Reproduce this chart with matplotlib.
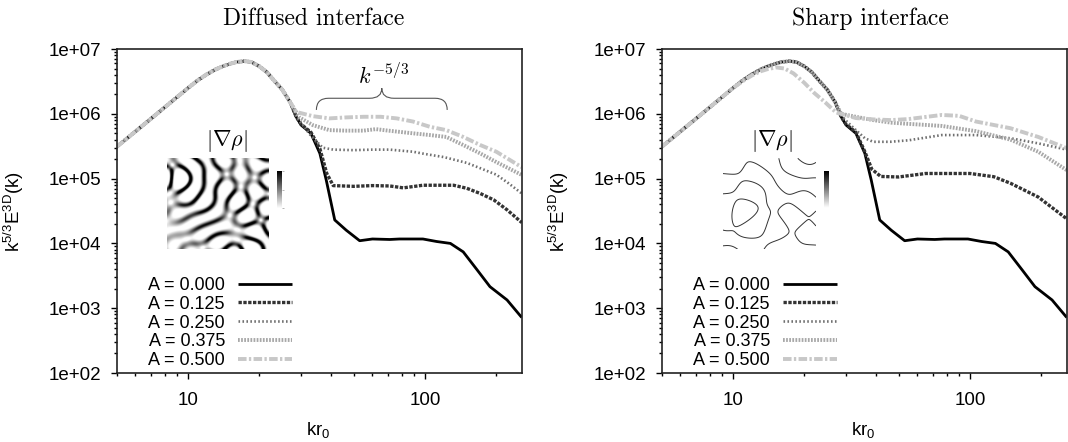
import numpy as np
import matplotlib
matplotlib.use('Agg')
import matplotlib.pyplot as plt
from matplotlib.path import Path
from matplotlib.patches import PathPatch
from matplotlib.ticker import FuncFormatter, NullFormatter, LogLocator, FixedLocator

plt.rcParams['font.family'] = 'Liberation Sans'
plt.rcParams['mathtext.fontset'] = 'custom'
plt.rcParams['mathtext.rm'] = 'Liberation Sans'
plt.rcParams['mathtext.it'] = 'Liberation Sans:italic'

# ---- spectra: k r0 vs k^{5/3} E^{3D}(k) ----
# rising branch shared by every run
k_low = [5, 7, 10, 11, 12, 13, 14, 15, 16, 17.3, 18.5, 20, 21.5, 23, 25, 27]
e_low = [3.1e5, 8.5e5, 2.5e6, 3.3e6, 4.07e6, 4.8e6, 5.4e6, 5.9e6, 6.3e6, 6.5e6, 6.3e6, 5.4e6,
         4.4e6, 3.3e6, 2.35e6, 1.5e6]

# A = 0 (same in both panels)
k_a000 = [28.6, 30, 33, 36, 38.3, 41.6, 46.5, 53, 60, 71, 78, 98, 112, 128, 145, 166, 188, 222, 256]
e_a000 = [9.0e5, 6.7e5, 5.0e5, 2.45e5, 9.5e4, 2.3e4, 1.6e4, 1.1e4, 1.17e4, 1.15e4, 1.17e4, 1.17e4,
          1.07e4, 1.0e4, 7.4e3, 3.9e3, 2.15e3, 1.34e3, 7.2e2]

# diffused interface
dif_k125 = [28.6, 30, 33, 36, 38.5, 41, 50, 60, 71, 81, 98, 132, 150, 171, 195, 222, 256]
dif_e125 = [9.0e5, 6.9e5, 5.2e5, 2.9e5, 1.2e5, 7.8e4, 7.6e4, 7.8e4, 7.7e4, 7.2e4, 7.9e4, 7.9e4,
            7.1e4, 5.9e4, 4.7e4, 3.3e4, 2.1e4]
dif_k250 = [28.6, 30, 33, 37, 41, 50, 60, 71, 89, 100, 120, 150, 175, 200, 225, 256]
dif_e250 = [9.2e5, 7.2e5, 4.6e5, 3.0e5, 2.8e5, 2.75e5, 2.8e5, 2.8e5, 2.6e5, 2.4e5, 2.15e5, 1.75e5,
            1.4e5, 1.15e5, 8.5e4, 5.9e4]
dif_k375 = [28.6, 29.5, 33.6, 39.5, 46.5, 55, 62, 70, 89, 105, 123, 145, 171, 200, 256]
dif_e375 = [1.05e6, 8.8e5, 6.7e5, 5.6e5, 5.5e5, 5.5e5, 5.8e5, 5.5e5, 5.0e5, 4.7e5, 4.4e5, 3.3e5,
            2.45e5, 1.8e5, 1.14e5]
dif_k500 = [28.6, 33.6, 39.5, 46.5, 55, 65, 76, 89, 105, 123, 145, 171, 200, 256]
dif_e500 = [1.07e6, 9.2e5, 8.5e5, 8.8e5, 9.0e5, 9.0e5, 8.5e5, 7.6e5, 6.3e5, 5.6e5, 4.4e5, 3.3e5,
            2.6e5, 1.5e5]

# sharp interface
shp_k125 = [28.6, 30, 33, 36, 38.5, 42, 50, 65, 80, 100, 126, 148, 194, 256]
shp_e125 = [9.0e5, 6.9e5, 5.2e5, 2.6e5, 1.4e5, 1.08e5, 1.06e5, 1.2e5, 1.2e5, 1.2e5, 1.07e5, 8.5e4,
            5.2e4, 2.4e4]
shp_k250 = [28.6, 30, 33, 36, 39, 46, 55, 76, 106, 148, 194, 256]
shp_e250 = [9.5e5, 7.8e5, 5.6e5, 4.2e5, 3.7e5, 3.7e5, 3.9e5, 4.7e5, 4.7e5, 4.2e5, 3.5e5, 2.8e5]
shp_k375 = [28.6, 33, 39, 46.5, 55, 76, 106, 148, 194, 256]
shp_e375 = [1.0e6, 9.0e5, 8.0e5, 7.3e5, 7.0e5, 6.5e5, 5.4e5, 4.0e5, 2.6e5, 1.35e5]
shp_k500 = [5, 7, 10, 11, 12, 13, 14, 15.2, 16.5, 18, 20, 22, 24.5, 27.2, 33, 39, 46.5, 55, 76, 90,
            106, 148, 194, 256]
shp_e500 = [3.1e5, 8.5e5, 2.5e6, 3.2e6, 3.9e6, 4.5e6, 4.9e6, 5.2e6, 5.0e6, 4.2e6, 3.0e6, 2.1e6,
            1.5e6, 1.05e6, 8.6e5, 8.2e5, 8.0e5, 8.3e5, 9.6e5, 9.3e5, 7.6e5, 6.0e5, 4.4e5, 2.95e5]

labels = ['A = 0.000', 'A = 0.125', 'A = 0.250', 'A = 0.375', 'A = 0.500']
colors = ['black', '#333333', '#707070', '#a8a8a8', '#c8c8c8']
widths = [2.0, 2.4, 1.9, 2.8, 2.8]
styles = ['-', (0, (1.0, 0.45)), (0, (0.6, 0.9)), (0, (0.45, 0.35)), (0, (2.2, 0.6, 0.6, 0.6))]

# modes for the |grad rho| thumbnails (angle in deg, phase)
dif_theta = [3, 18, 34, 49, 66, 81, 97, 112, 128, 143, 158, 172]
dif_phase = [0.3, 2.1, 4.0, 1.2, 5.3, 3.1, 0.8, 2.7, 4.6, 1.9, 5.8, 3.5]
shp_theta = [7, 25, 41, 58, 74, 92, 109, 126, 144, 163]
shp_phase = [1.7, 0.4, 3.6, 2.5, 5.0, 4.2, 0.9, 2.9, 5.5, 1.3]


def level_field(theta, phase, nwave, nx=220, ny=200):
    x, y = np.meshgrid(np.linspace(0, 1, nx), np.linspace(0, 1, ny))
    phi = np.zeros_like(x)
    for t, p in zip(theta, phase):
        t = np.deg2rad(t)
        phi += np.cos(2 * np.pi * nwave * (x * np.cos(t) + y * np.sin(t)) + p)
    return x, y, phi


def brace(ax, x0, x1, yb, yf, yt, d=0.03):
    xm = 0.5 * (x0 + x1)
    verts = [(x0, yb), (x0, yf), (x0 + d, yf), (xm - d, yf), (xm, yf), (xm, yt),
             (xm, yf), (xm + d, yf), (x1 - d, yf), (x1, yf), (x1, yb)]
    codes = [Path.MOVETO, Path.CURVE3, Path.CURVE3, Path.LINETO, Path.CURVE3, Path.CURVE3,
             Path.CURVE3, Path.CURVE3, Path.LINETO, Path.CURVE3, Path.CURVE3]
    ax.add_patch(PathPatch(Path(verts, codes), transform=ax.transAxes, fc='none',
                           ec='#555555', lw=0.8, clip_on=False))


fig = plt.figure(figsize=(10.68, 4.42), dpi=100)
ax0 = fig.add_axes([0.1093, 0.1561, 0.3792, 0.7330])
ax1 = fig.add_axes([0.6196, 0.1561, 0.3792, 0.7330])

panels = [
    (ax0, 'Diffused interface', 0.485,
     [(k_a000, e_a000), (dif_k125, dif_e125), (dif_k250, dif_e250), (dif_k375, dif_e375), (dif_k500, dif_e500)]),
    (ax1, 'Sharp interface', 0.514,
     [(k_a000, e_a000), (shp_k125, shp_e125), (shp_k250, shp_e250), (shp_k375, shp_e375), (None, None)]),
]

for ax, title, tx, curves in panels:
    # A = 0 first, so the lighter runs sit on top where they overlap
    for i in range(5):
        kt, et = curves[i]
        if kt is None:
            k, e = shp_k500, shp_e500
        else:
            k, e = k_low + kt, e_low + et
        ax.plot(k, e, color=colors[i], lw=widths[i], ls=styles[i], label=labels[i],
                solid_capstyle='butt', dash_capstyle='butt')
    ax.set_xscale('log')
    ax.set_yscale('log')
    ax.set_xlim(5, 256)
    ax.set_ylim(1e2, 1e7)
    ax.xaxis.set_major_locator(FixedLocator([10, 100]))
    ax.xaxis.set_major_formatter(FuncFormatter(lambda v, p: '%d' % v))
    ax.xaxis.set_minor_locator(LogLocator(base=10, subs=np.arange(2, 10)))
    ax.xaxis.set_minor_formatter(NullFormatter())
    ax.yaxis.set_major_locator(LogLocator(base=10, numticks=10))
    ax.yaxis.set_major_formatter(FuncFormatter(lambda v, p: '%.0e' % v))
    ax.yaxis.set_minor_locator(LogLocator(base=10, subs=np.arange(2, 10), numticks=10))
    ax.yaxis.set_minor_formatter(NullFormatter())
    ax.tick_params(which='both', direction='out', top=False, right=False, labelsize=13.5, width=1.0)
    ax.tick_params(which='major', length=4, pad=7)
    ax.tick_params(axis='x', which='major', pad=10)
    ax.tick_params(which='minor', length=2)
    for s in ax.spines.values():
        s.set_linewidth(1.2)
        s.set_color('#222222')
    ax.set_xlabel('kr$_0$', fontsize=13.5)
    ax.xaxis.set_label_coords(0.497, -0.145)
    ax.set_ylabel('k$^{5/3}$E$^{\\mathrm{3D}}$(k)', fontsize=13.5)
    ax.yaxis.set_label_coords(-0.225, 0.5)
    ax.text(tx, 1.074, title, transform=ax.transAxes, ha='center', va='baseline',
            fontsize=17, family='cmr10')
    ax.text(0.273, 0.717, r'$|\nabla\rho|$', transform=ax.transAxes, ha='center', va='center',
            fontsize=16, math_fontfamily='cm')

    handles, labs = ax.get_legend_handles_labels()
    ax.legend(handles, labs, loc='lower right', bbox_to_anchor=(0.432, 0.012),
              frameon=False, markerfirst=False, handlelength=3.0, handletextpad=0.7,
              labelspacing=0.1, borderpad=0, borderaxespad=0, fontsize=13)

# k^{-5/3} range marker
brace(ax0, 0.493, 0.816, 0.812, 0.848, 0.879)
ax0.text(0.658, 0.915, r'$k^{-5/3}$', transform=ax0.transAxes, ha='center', va='center',
         fontsize=16, math_fontfamily='cm')

# thumbnails: diffused -> |grad rho| bands, sharp -> thin interface lines
x, y, phi = level_field(dif_theta, dif_phase, 3.4)
rho = np.tanh(phi / 1.8)
gy, gx = np.gradient(rho)
grad = np.hypot(gx, gy)
gtop = 0.45 * grad.max()
ins0 = fig.add_axes([0.1567, 0.4360, 0.0955, 0.2059])
im0 = ins0.imshow(grad, cmap='gray_r', origin='lower', aspect='auto', interpolation='bilinear',
                  vmin=0.15 * gtop, vmax=gtop)
ins0.set_axis_off()
cax0 = fig.add_axes([0.2589, 0.5287, 0.0047, 0.0837])
cb0 = fig.colorbar(im0, cax=cax0)
cb0.outline.set_visible(False)
cb0.set_ticks([0.15 * gtop, 0.575 * gtop, gtop])
cb0.ax.tick_params(length=1.5, width=0.5, labelsize=0, colors='#999999')
cb0.ax.set_yticklabels([])

x, y, phi = level_field(shp_theta, shp_phase, 2.9)
ins1 = fig.add_axes([0.6765, 0.4360, 0.0875, 0.2059])
ins1.contour(x, y, phi, levels=[0], colors='#333333', linewidths=0.7)
ins1.set_xlim(0, 1)
ins1.set_ylim(0, 1)
ins1.set_axis_off()
cax1 = fig.add_axes([0.7711, 0.5287, 0.0040, 0.0837])
grad1 = np.linspace(0, 1, 50).reshape(-1, 1)
cax1.imshow(grad1, cmap='gray_r', origin='lower', aspect='auto')
cax1.set_xticks([])
cax1.set_yticks([])
for s in cax1.spines.values():
    s.set_visible(False)

fig.savefig('out.png', dpi=100)
